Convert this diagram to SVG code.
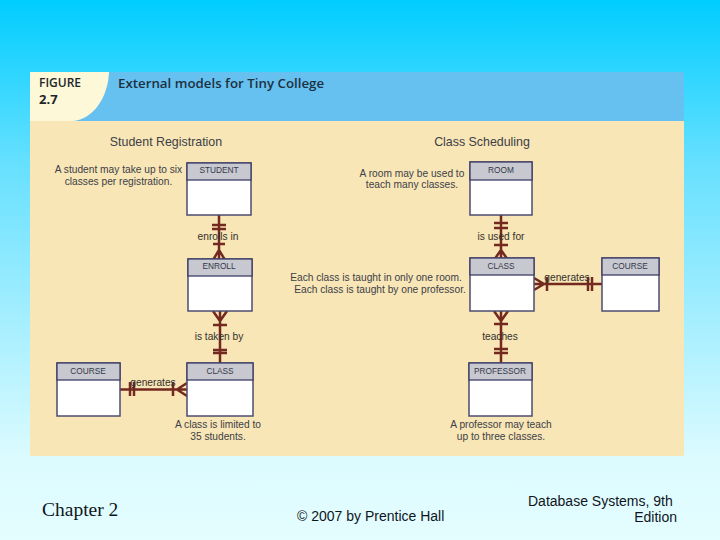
<svg xmlns="http://www.w3.org/2000/svg" width="720" height="540" viewBox="0 0 720 540">
<style>
text{font-family:"Liberation Sans",Arial,sans-serif;fill:#3c4048}
.t{font-size:10.2px;text-anchor:middle}
.h{font-size:12.4px;text-anchor:middle}
.n{font-size:8.3px;text-anchor:middle;fill:#33384a}
.r{font-size:10.2px;text-anchor:middle;fill:#33302c}
.hd{fill:#c8c8d0;stroke:#3c3c68;stroke-width:1.3}
.bd{fill:#fff;stroke:#4c4c70;stroke-width:1.5}
.c{fill:none;stroke:#73291f;stroke-width:2.5}
.f{font-family:"Liberation Sans",Arial,sans-serif;fill:#10151c;font-size:14px}
</style>
<defs>
<linearGradient id="bg" x1="0" y1="0" x2="0" y2="1"><stop offset="0" stop-color="#00cdff"/><stop offset=".3" stop-color="#66e0ff"/><stop offset=".85" stop-color="#dcfbff"/><stop offset="1" stop-color="#e4fdff"/></linearGradient>
</defs>
<rect width="720" height="540" fill="url(#bg)"/>
<rect x="30" y="72" width="654" height="384" fill="#f8e6b6"/>
<rect x="30" y="72" width="654" height="49" fill="#66c0f0"/>
<path d="M30 72H109C108 98 93 119 73 121H30Z" fill="#fdf8d8"/>
<text x="39" y="87" style="font-family:'Open Sans',sans-serif;font-size:12px;font-weight:600;fill:#22262c">FIGURE</text>
<text x="39" y="104" style="font-family:'Open Sans',sans-serif;font-size:13px;font-weight:700;fill:#22262c">2.7</text>
<text x="118" y="88" style="font-family:'Open Sans',sans-serif;font-size:13.3px;font-weight:600;fill:#1e3040">External models for Tiny College</text>
<text class="h" x="166" y="146">Student Registration</text>
<text class="h" x="482" y="146">Class Scheduling</text>
<g id="connectors" class="c">
<path d="M219 215V260M212 225H226M212 229H226M213 244H225M213 260L219 250L225 260"/>
<path d="M220 311V363M213 325H227M213 350H227M213 353H227M213 311L220 321L227 311"/>
<path d="M120 389.500H187M130 382V396M134 382V396M173 382V396M187 383L177 389.500L187 396"/>
<path d="M501 215V260M494 223H508M494 228H508M494 245H508M494 260L501 250L508 260"/>
<path d="M501 311V363M494 324H508M494 349H508M494 353H508M494 311L501 321L508 311"/>
<path d="M534 284H602M547 277V291M588 277V291M592 277V291M534 278L544 284L534 290"/>
</g>
<g id="student"><rect class="bd" x="187" y="163" width="64" height="52"/><rect class="hd" x="187" y="163" width="64" height="17"/><text class="n" x="219" y="173">STUDENT</text></g>
<g id="enroll"><rect class="bd" x="188" y="259" width="64" height="52"/><rect class="hd" x="188" y="259" width="64" height="17"/><text class="n" x="219" y="269">ENROLL</text></g>
<g id="class-a"><rect class="bd" x="187" y="363" width="66" height="53"/><rect class="hd" x="187" y="363" width="66" height="17"/><text class="n" x="220" y="374">CLASS</text></g>
<g id="course-a"><rect class="bd" x="57" y="363" width="63" height="53"/><rect class="hd" x="57" y="363" width="63" height="17"/><text class="n" x="88" y="374">COURSE</text></g>
<g id="room"><rect class="bd" x="470" y="162" width="62" height="53"/><rect class="hd" x="470" y="162" width="62" height="18"/><text class="n" x="501" y="173">ROOM</text></g>
<g id="class-b"><rect class="bd" x="470" y="258" width="64" height="53"/><rect class="hd" x="470" y="258" width="64" height="17"/><text class="n" x="501" y="269">CLASS</text></g>
<g id="course-b"><rect class="bd" x="602" y="258" width="57" height="53"/><rect class="hd" x="602" y="258" width="57" height="17"/><text class="n" x="630" y="269">COURSE</text></g>
<g id="professor"><rect class="bd" x="469" y="363" width="63" height="53"/><rect class="hd" x="469" y="363" width="63" height="17"/><text class="n" x="500" y="374">PROFESSOR</text></g>
<g id="labels">
<text class="r" x="218" y="240">enrolls in</text>
<text class="r" x="219" y="340">is taken by</text>
<text class="r" x="153" y="386">generates</text>
<text class="r" x="501" y="240">is used for</text>
<text class="r" x="500" y="340">teaches</text>
<text class="r" x="567" y="281">generates</text>
<text class="t" x="118.500" y="173">A student may take up to six</text>
<text class="t" x="118.500" y="185">classes per registration.</text>
<text class="t" x="412" y="177">A room may be used to</text>
<text class="t" x="412" y="188">teach many classes.</text>
<text class="t" x="376" y="281">Each class is taught in only one room.</text>
<text class="t" x="380" y="293">Each class is taught by one professor.</text>
<text class="t" x="218" y="428">A class is limited to</text>
<text class="t" x="218" y="440">35 students.</text>
<text class="t" x="501" y="428">A professor may teach</text>
<text class="t" x="501" y="440">up to three classes.</text>
</g>
<text x="42" y="516" style="font-family:'Liberation Serif',serif;font-size:19.500px;fill:#10151c">Chapter 2</text>
<text class="f" x="297" y="521">© 2007 by Prentice Hall</text>
<text class="f" x="528" y="506">Database Systems, 9th</text>
<text class="f" x="677" y="522" text-anchor="end">Edition</text>
</svg>
